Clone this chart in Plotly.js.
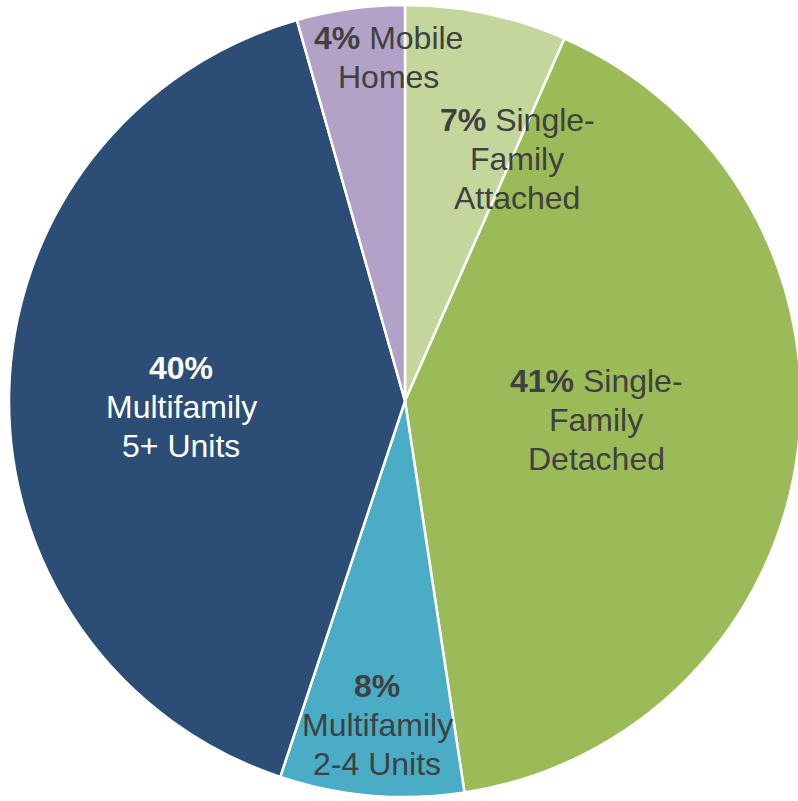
<!DOCTYPE html>
<html>
<head>
<meta charset="utf-8">
<script src="https://cdn.plot.ly/plotly-3.0.1.min.js"></script>
<style>
html,body{margin:0;padding:0;overflow:hidden;background:#fff;width:798px;height:801px;}
#chart{width:812px;height:801px;}
</style>
</head>
<body>
<div id="chart"></div>
<script>
// Data
var categories = ["Single-Family Attached", "Single-Family Detached", "Multifamily 2-4 Units", "Multifamily 5+ Units", "Mobile Homes"];
var sliceShares = [6.6, 41.0, 7.5, 40.5, 4.4];     // slice sizes
var labelPercents = [7, 41, 8, 40, 4];             // percentages printed on the chart
var labelLines = [
  ["Single-", "Family", "Attached"],
  ["Single-", "Family", "Detached"],
  ["", "Multifamily", "2-4 Units"],
  ["", "Multifamily", "5+ Units"],
  ["Mobile", "Homes"]
];

// Styles
var colors = ["#c3d69b", "#9bbb59", "#4bacc6", "#2c4d75", "#b3a2c7"];
var textColors = ["#404040", "#404040", "#404040", "#ffffff", "#404040"];
// label anchor positions (x centre, y centre of first line) in pixels of the 812x801 plot
var labelPos = [[517, 120], [596, 381], [377, 686], [181, 368], [388, 38]];
var lineStep = 39;
var fontSize = 32;

var W = 812, H = 801;

var annotations = [];
categories.forEach(function (c, i) {
  labelLines[i].forEach(function (line, k) {
    var t = line;
    if (k === 0) {
      var pct = "<b>" + labelPercents[i] + "%</b>";
      t = line === "" ? pct : pct + " " + line;
    }
    annotations.push({
      x: labelPos[i][0] / W,
      y: 1 - (labelPos[i][1] + k * lineStep) / H,
      xref: "paper", yref: "paper",
      xanchor: "center", yanchor: "middle",
      text: t,
      showarrow: false,
      align: "center",
      font: {family: "Liberation Sans, Arial, sans-serif", size: fontSize, color: textColors[i]}
    });
  });
});

var trace = {
  type: "pie",
  labels: categories,
  values: sliceShares,
  sort: false,
  direction: "clockwise",
  rotation: 0,
  textinfo: "none",
  hoverinfo: "label",
  marker: {colors: colors, line: {color: "#ffffff", width: 2.5}},
  domain: {x: [9 / W, 801 / W], y: [4 / H, 796 / H]},
  showlegend: false
};

var layout = {
  width: W, height: H,
  margin: {l: 0, r: 0, t: 0, b: 0, pad: 0},
  paper_bgcolor: "#ffffff",
  showlegend: false,
  annotations: annotations
};

Plotly.newPlot("chart", [trace], layout, {displayModeBar: false, staticPlot: true});
</script>
</body>
</html>
